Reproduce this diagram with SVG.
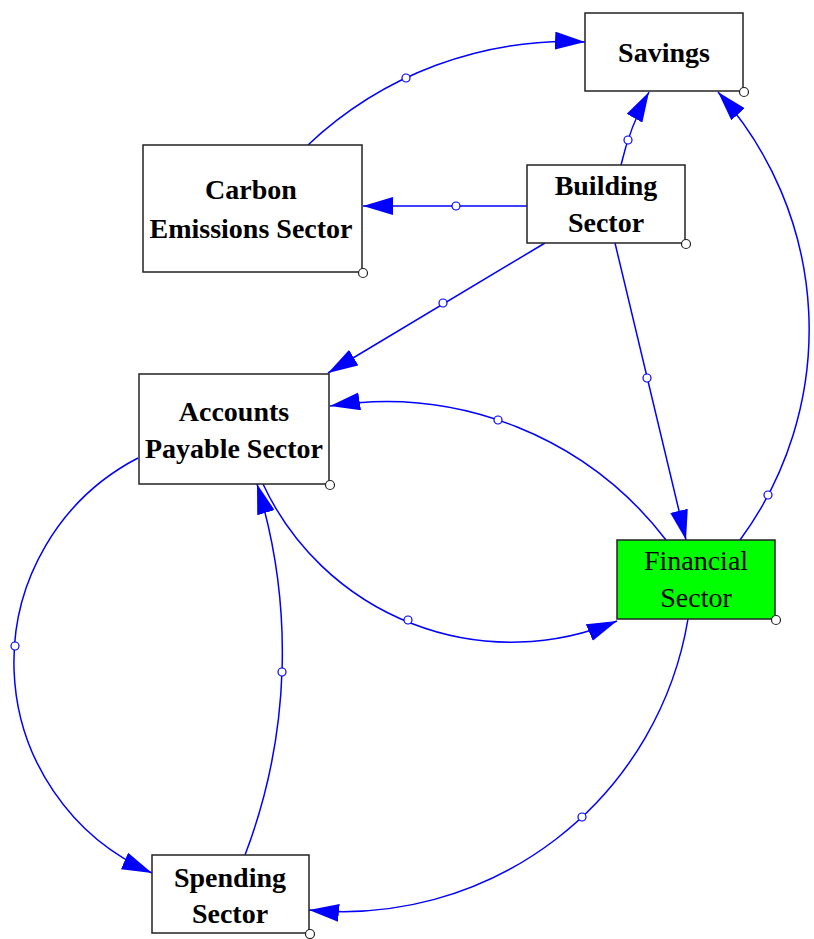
<svg xmlns="http://www.w3.org/2000/svg" width="814" height="939" viewBox="0 0 814 939">
<style>
.box{fill:#fff;stroke:#222;stroke-width:1.5}
.fin{fill:#00ff00}
.lbl{font-family:"Liberation Serif","Times New Roman",serif;font-size:28px;font-weight:bold;fill:#000;text-anchor:middle}
.reg{font-weight:normal}
.link{fill:none;stroke:#0000ff;stroke-width:1.5;marker-end:url(#ah)}
.hdl{fill:#fff;stroke:#0000ff;stroke-width:1.2}
.crn{fill:#fff;stroke:#222;stroke-width:1.2}
</style>
<defs>
<marker id="ah" markerUnits="userSpaceOnUse" markerWidth="30" markerHeight="18" viewBox="0 0 30 18" refX="30" refY="9" orient="auto">
<path d="M0,0 L30,9 L0,18 z" fill="#0000ff"/>
</marker>
</defs>
<rect width="814" height="939" fill="#fff"/>
<g id="connectors">
<path class="link" d="M308,145 A378,378 0 0 1 585,42"/>
<path class="link" d="M740,540 A355,355 0 0 0 718,92"/>
<path class="link" d="M666,540 A353,353 0 0 0 330,406"/>
<path class="link" d="M263,484 A274,274 0 0 0 617,621"/>
<path class="link" d="M138,458 A230,230 0 0 0 152,873"/>
<path class="link" d="M245,855 A570,570 0 0 0 257,484"/>
<path class="link" d="M688,619 A350,350 0 0 1 309,910"/>
<path class="link" d="M621,165 A281,281 0 0 1 649,92"/>
<path class="link" d="M615,243 L686,540"/>
<path class="link" d="M545,243 L328,373"/>
<path class="link" d="M527,206 L363,206"/>
<circle class="hdl" cx="406" cy="78" r="4"/>
<circle class="hdl" cx="628" cy="140" r="4"/>
<circle class="hdl" cx="456" cy="206" r="4"/>
<circle class="hdl" cx="443" cy="303" r="4"/>
<circle class="hdl" cx="647" cy="378" r="4"/>
<circle class="hdl" cx="768" cy="495" r="4"/>
<circle class="hdl" cx="498" cy="420" r="4"/>
<circle class="hdl" cx="408" cy="620" r="4"/>
<circle class="hdl" cx="15" cy="646" r="4"/>
<circle class="hdl" cx="282" cy="672" r="4"/>
<circle class="hdl" cx="582" cy="817" r="4"/>
</g>
<g id="savings">
<rect class="box" x="585" y="13" width="158" height="78"/>
<text class="lbl" x="664" y="62">Savings</text>
<circle class="crn" cx="744" cy="92" r="4.5"/>
</g>
<g id="carbon">
<rect class="box" x="143" y="145" width="219" height="127"/>
<text class="lbl" x="251" y="199">Carbon</text>
<text class="lbl" x="251" y="238">Emissions Sector</text>
<circle class="crn" cx="363" cy="273" r="4.5"/>
</g>
<g id="building">
<rect class="box" x="527" y="165" width="158" height="78"/>
<text class="lbl" x="606" y="195">Building</text>
<text class="lbl" x="606" y="232">Sector</text>
<circle class="crn" cx="686" cy="244" r="4.5"/>
</g>
<g id="accounts">
<rect class="box" x="139" y="374" width="190" height="110"/>
<text class="lbl" x="234" y="421">Accounts</text>
<text class="lbl" x="234" y="458">Payable Sector</text>
<circle class="crn" cx="330" cy="485" r="4.5"/>
</g>
<g id="financial">
<rect class="box fin" x="617" y="540" width="158" height="79"/>
<text class="lbl reg" x="696" y="570">Financial</text>
<text class="lbl reg" x="696" y="607">Sector</text>
<circle class="crn" cx="776" cy="620" r="4.5"/>
</g>
<g id="spending">
<rect class="box" x="152" y="855" width="157" height="78"/>
<text class="lbl" x="230" y="887">Spending</text>
<text class="lbl" x="230" y="923">Sector</text>
<circle class="crn" cx="310" cy="934" r="4.5"/>
</g>
</svg>
